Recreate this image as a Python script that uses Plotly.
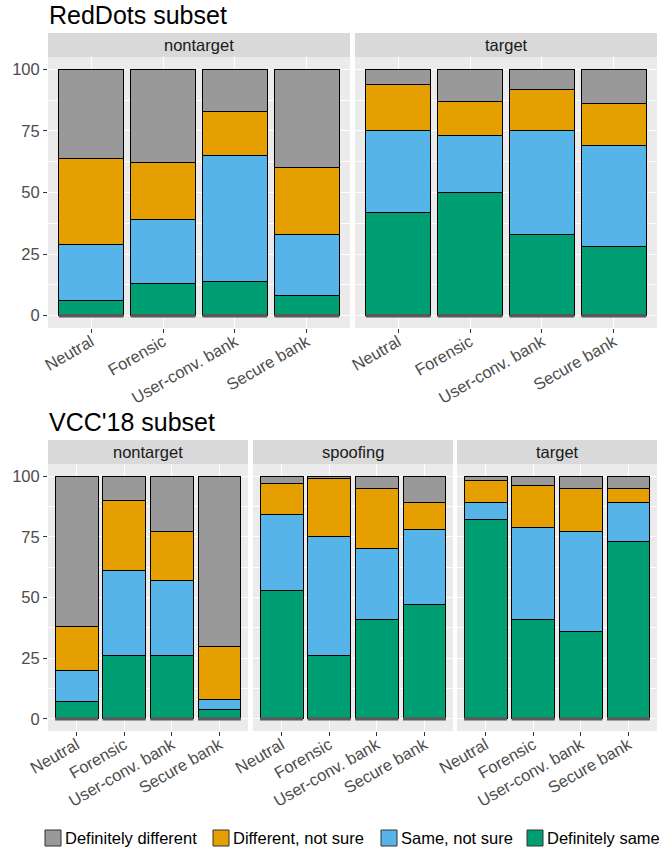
import plotly.graph_objects as go

W, H = 665, 851

categories = ["Neutral", "Forensic", "User-conv. bank", "Secure bank"]
responses = ["Definitely same", "Same, not sure", "Different, not sure", "Definitely different"]
resp_colors = ["#009E73", "#56B4E9", "#E69F00", "#999999"]
y_ticks = [0, 25, 50, 75, 100]

# RedDots subset (percent)
rd_nontarget_def_same = [6, 13, 14, 8]
rd_nontarget_same_ns = [23, 26, 51, 25]
rd_nontarget_diff_ns = [35, 23, 18, 27]
rd_nontarget_def_diff = [36, 38, 17, 40]

rd_target_def_same = [42, 50, 33, 28]
rd_target_same_ns = [33, 23, 42, 41]
rd_target_diff_ns = [19, 14, 17, 17]
rd_target_def_diff = [6, 13, 8, 14]

# VCC'18 subset (percent)
vcc_nontarget_def_same = [7, 26, 26, 4]
vcc_nontarget_same_ns = [13, 35, 31, 4]
vcc_nontarget_diff_ns = [18, 29, 20, 22]
vcc_nontarget_def_diff = [62, 10, 23, 70]

vcc_spoof_def_same = [53, 26, 41, 47]
vcc_spoof_same_ns = [31, 49, 29, 31]
vcc_spoof_diff_ns = [13, 24, 25, 11]
vcc_spoof_def_diff = [3, 1, 5, 11]

vcc_target_def_same = [82, 41, 36, 73]
vcc_target_same_ns = [7, 38, 41, 16]
vcc_target_diff_ns = [9, 17, 18, 6]
vcc_target_def_diff = [2, 4, 5, 5]

panels = [
    dict(label="nontarget", data=[rd_nontarget_def_same, rd_nontarget_same_ns, rd_nontarget_diff_ns, rd_nontarget_def_diff],
         x=(48, 350), y=(57, 328), strip=(33, 57), ylabels=True),
    dict(label="target", data=[rd_target_def_same, rd_target_same_ns, rd_target_diff_ns, rd_target_def_diff],
         x=(355, 657), y=(57, 328), strip=(33, 57), ylabels=False),
    dict(label="nontarget", data=[vcc_nontarget_def_same, vcc_nontarget_same_ns, vcc_nontarget_diff_ns, vcc_nontarget_def_diff],
         x=(48, 248), y=(464, 731), strip=(440, 464), ylabels=True),
    dict(label="spoofing", data=[vcc_spoof_def_same, vcc_spoof_same_ns, vcc_spoof_diff_ns, vcc_spoof_def_diff],
         x=(253, 453), y=(464, 731), strip=(440, 464), ylabels=False),
    dict(label="target", data=[vcc_target_def_same, vcc_target_same_ns, vcc_target_diff_ns, vcc_target_def_diff],
         x=(457, 657), y=(464, 731), strip=(440, 464), ylabels=False),
]

FONT = "Liberation Sans, Arial, sans-serif"
TS = 16.5

def fx(p):
    return p / W

def fy(p):
    return 1 - p / H

fig = go.Figure()
shapes = []
annotations = []
layout = {}

for i, p in enumerate(panels):
    n = i + 1
    xa = "x" if n == 1 else f"x{n}"
    ya = "y" if n == 1 else f"y{n}"
    for r, (name, col, vals) in enumerate(zip(responses, resp_colors, p["data"])):
        fig.add_trace(go.Bar(
            x=categories, y=vals, name=name, marker=dict(color=col, line=dict(color="black", width=1)),
            xaxis=xa, yaxis=ya, legendgroup=name, showlegend=False, hoverinfo="x+y+name",
        ))
    layout[f"xaxis{n}"] = dict(
        domain=[fx(p["x"][0]), fx(p["x"][1])], anchor=ya, type="category", automargin=False,
        range=[-0.6, len(categories) - 0.4], showgrid=True, gridcolor="white", gridwidth=1.2,
        ticks="outside", ticklen=4, tickcolor="#333333", tickwidth=1, tickangle=-30,
        ticklabelstandoff=-7,
        tickfont=dict(family=FONT, size=TS, color="#4d4d4d"), zeroline=False, showline=False,
        categoryorder="array", categoryarray=categories,
    )
    layout[f"yaxis{n}"] = dict(
        domain=[fy(p["y"][1]), fy(p["y"][0])], anchor=xa, range=[-5, 105], automargin=False,
        tickvals=y_ticks, showticklabels=p["ylabels"], ticks="outside" if p["ylabels"] else "",
        ticklen=4, tickcolor="#333333", tickwidth=1,
        tickfont=dict(family=FONT, size=TS, color="#4d4d4d"), showgrid=True, gridcolor="white", gridwidth=1.2,
        minor=dict(dtick=12.5, tick0=0, showgrid=True, gridcolor="white", gridwidth=0.5),
        zeroline=False, showline=False,
    )
    # facet strip
    shapes.append(dict(type="rect", xref="paper", yref="paper", x0=fx(p["x"][0]), x1=fx(p["x"][1]),
                       y0=fy(p["strip"][1]), y1=fy(p["strip"][0]), fillcolor="#d9d9d9", line=dict(width=0), layer="below"))
    annotations.append(dict(text=p["label"], xref="paper", yref="paper",
                            x=(fx(p["x"][0]) + fx(p["x"][1])) / 2, y=(fy(p["strip"][0]) + fy(p["strip"][1])) / 2,
                            xanchor="center", yanchor="middle", showarrow=False,
                            font=dict(family=FONT, size=TS, color="#1a1a1a")))
    # dark baseline strip at the foot of each bar
    for k in range(len(categories)):
        shapes.append(dict(type="rect", xref=xa, yref=ya, x0=k - 0.45, x1=k + 0.45, y0=-0.7, y1=0.7,
                           fillcolor="#595959", line=dict(width=0), layer="above"))

annotations.append(dict(text="RedDots subset", xref="paper", yref="paper", x=fx(47), y=fy(31),
                        xanchor="left", yanchor="bottom", showarrow=False,
                        font=dict(family=FONT, size=25, color="black")))
annotations.append(dict(text="VCC'18 subset", xref="paper", yref="paper", x=fx(47), y=fy(438),
                        xanchor="left", yanchor="bottom", showarrow=False,
                        font=dict(family=FONT, size=25, color="black")))

# legend (drawn as keys + labels, ordered as in the reference)
legend_key_x = [45, 213, 381, 527]
legend_y = 838
key_size = 16
for kx, name, col in zip(legend_key_x, responses[::-1], resp_colors[::-1]):
    shapes.append(dict(type="rect", xref="paper", yref="paper", x0=fx(kx), x1=fx(kx + key_size),
                       y0=fy(legend_y + key_size / 2), y1=fy(legend_y - key_size / 2),
                       fillcolor=col, line=dict(color="#333333", width=1)))
    annotations.append(dict(text=name, xref="paper", yref="paper", x=fx(kx + key_size + 2), y=fy(legend_y),
                            xanchor="left", yanchor="middle", showarrow=False,
                            font=dict(family=FONT, size=TS, color="black")))

fig.update_layout(
    width=W, height=H, margin=dict(l=0, r=0, t=0, b=0, autoexpand=False),
    paper_bgcolor="white", plot_bgcolor="#ebebeb",
    barmode="stack", bargap=0.1, showlegend=False,
    shapes=shapes, annotations=annotations,
    font=dict(family=FONT),
    **layout,
)

fig.write_html("out.html", config={"displayModeBar": False},
               post_script="document.body.style.margin='0';document.body.style.overflow='hidden';")
